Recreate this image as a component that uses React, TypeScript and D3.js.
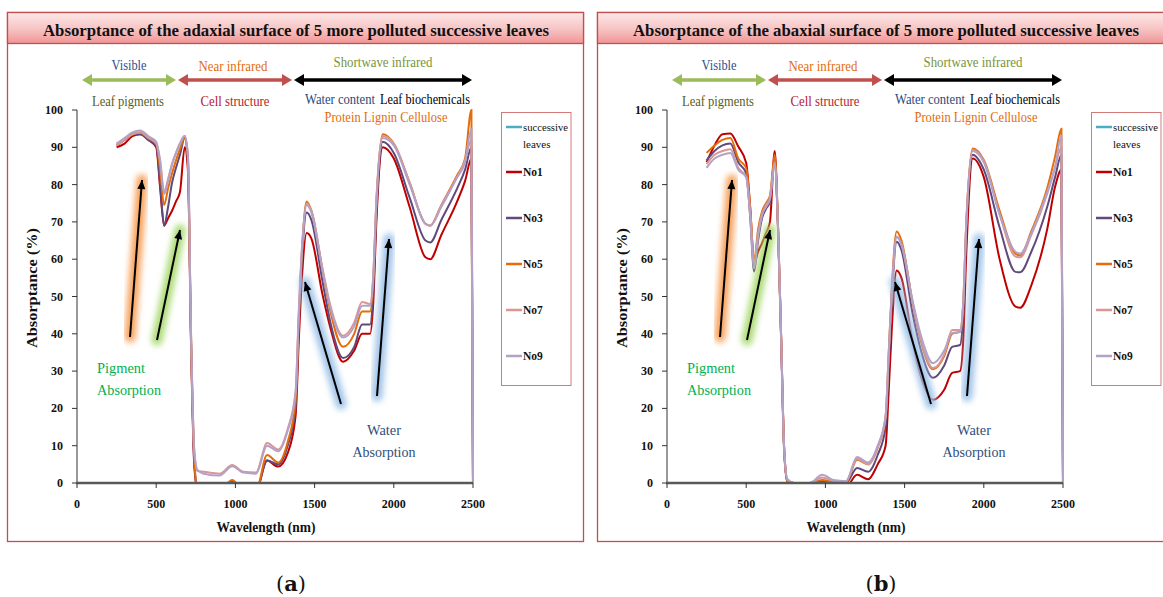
import * as React from "react";
import * as d3 from "d3";

// wavelength grid (nm) the curves were read at
const wavelengths = [
  250, 300, 350, 400, 450, 500, 525, 550, 575, 600, 625, 650, 680, 700, 720, 740, 760, 800, 900, 980,
  1050, 1130, 1200, 1270, 1330, 1380, 1400, 1420, 1450, 1480, 1550, 1600, 1680, 1750, 1800, 1850, 1870,
  1890, 1930, 2000, 2100, 2200, 2230, 2300, 2400, 2450, 2490, 2500,
];

// (a) adaxial surface
const adaxialNo1 = [
  90, 91, 93, 93.5, 92, 90, 79, 69, 71, 73, 75.5, 78, 90, 84, 37, 5, -1.5, -2, -2, 0.5,
  -2, -2, 6, 4.4, 8, 18, 38, 55, 67, 65.5, 50.5, 41.5, 32.5, 35.5, 40, 40, 48,
  70, 90, 87, 74, 60.5, 60, 66.5, 75.5, 81, 87, 0,
];
const adaxialNo3 = [
  90.5, 92, 93.5, 93.5, 92, 90.5, 80, 69, 74, 80.5, 84.5, 88, 92.5, 86, 38, 6, -1.5, -2, -2, 0.5,
  -2, -2, 6, 5, 10, 20, 42, 60, 72.5, 70.5, 54, 43, 33.5, 36.5, 42.5, 42.5, 51,
  72, 91.5, 88.5, 76.5, 65, 64.5, 70.5, 79, 84, 90, 0,
];
const adaxialNo5 = [
  91, 92, 93.5, 94, 92.5, 91, 84, 74.5, 79, 83, 86.5, 89.5, 92.5, 87, 39, 7, -1.5, -2, -2, 0.8,
  -2, -2, 7.5, 5.5, 11, 22, 44, 62, 75.5, 73, 57, 46, 36.5, 40, 46, 46, 54,
  75, 93.5, 91, 80.5, 69.5, 69, 74.5, 82.5, 87, 100, 0,
];
const adaxialNo7 = [
  90.5, 92, 93.5, 94, 92.5, 91, 86.5, 78, 81.5, 85.5, 88.5, 91, 93, 88, 40, 9, 3.2, 3, 2.5, 4.8,
  3, 2.8, 10.7, 9, 14.5, 24.5, 46, 63, 75, 73, 57.5, 47.5, 39.5, 43, 48.5, 48, 55.5,
  76, 93, 91, 80.5, 69.5, 69, 74.5, 82, 86.5, 92, 0,
];
const adaxialNo9 = [
  91, 92.5, 94, 94.5, 93, 91.5, 86, 77.5, 81, 85.5, 88.5, 91, 93, 88, 40, 9, 3.5, 2.5, 2, 4.5,
  2.8, 2.5, 10, 8.5, 14, 24, 45, 62, 74.5, 72.5, 57, 47, 39, 42, 47.5, 47.5, 55,
  75, 92.5, 90.5, 80, 69.5, 69, 74, 82, 86, 95, 0,
];

// (b) abaxial surface
const abaxialNo1 = [
  86, 90.5, 93.5, 93.7, 90.2, 85.8, 74, 59, 62, 64.3, 67, 70, 89, 70, 40, 9, 0.5, 0, -0.5, 0.3,
  -1, -1, 2.2, 1, 5, 10, 25, 42, 57, 55, 38, 29, 22.3, 25, 29.5, 30, 38,
  62, 87, 82, 60, 47.3, 47, 53, 68, 79.4, 84, 0,
];
const abaxialNo3 = [
  86.5, 89, 90.5, 91, 86, 83, 71.5, 56.7, 65, 71, 73.5, 75.5, 87, 69, 39, 8, 0.5, 0, 0, 0.5,
  0, 0, 4, 3, 7.5, 15, 32, 50, 64.7, 62.5, 45.5, 36, 28.2, 31.5, 36.5, 37, 45,
  68, 88, 84, 68.5, 56.6, 56.5, 62, 74, 82, 88, 0,
];
const abaxialNo5 = [
  88.5, 90.5, 92, 92.5, 87, 84.4, 74, 59.5, 68, 72.8, 75, 77, 88, 70, 40, 9, 0.5, 0, 0, 0.8,
  0.3, 0.2, 6.2, 5, 9.5, 17.5, 35, 53, 67.4, 65, 48.5, 38.5, 30.5, 34, 40, 40.5, 48,
  70.5, 89.7, 86.6, 73, 61.5, 61, 67.5, 79, 87.5, 95, 0,
];
const abaxialNo7 = [
  85.5, 88, 89, 89.5, 84.5, 82, 72.5, 58.5, 67, 72, 74.5, 76.5, 86, 70, 40, 9, 1, 0, 0, 1.5,
  0.6, 0.4, 6.5, 5, 9.5, 17.5, 34.5, 51.5, 66, 64, 48.5, 39, 30.8, 34.5, 41, 41, 48.5,
  70, 89.3, 86.3, 72, 60.7, 60.5, 66.5, 77.5, 84.5, 90, 0,
];
const abaxialNo9 = [
  84.5, 87, 88, 88.5, 84, 82, 72, 57.5, 66, 71.8, 74, 76, 85.5, 70, 40, 9, 1, 0, 0, 2.2,
  0.8, 0.5, 7, 5.5, 10, 18, 35, 52, 66, 64, 49, 40, 32.1, 35.5, 40.2, 40.5, 48,
  70, 89, 86, 72, 62, 61.5, 67, 78, 84.8, 93, 0,
];

const seriesNames = ["No1", "No3", "No5", "No7", "No9"];
const seriesColors = ["#c00000", "#604a7b", "#e46c0a", "#d99694", "#b3a2c7"];
const adaxialSeries = [adaxialNo1, adaxialNo3, adaxialNo5, adaxialNo7, adaxialNo9];
const abaxialSeries = [abaxialNo1, abaxialNo3, abaxialNo5, abaxialNo7, abaxialNo9];

const FONT = "Liberation Serif, DejaVu Serif, serif";

// arrow head at (x2,y2) pointing away from (x1,y1)
const headPoints = (x1, y1, x2, y2, len = 9, half = 4.5) => {
  const a = Math.atan2(y2 - y1, x2 - x1);
  const bx = x2 - len * Math.cos(a);
  const by = y2 - len * Math.sin(a);
  const px = -Math.sin(a) * half;
  const py = Math.cos(a) * half;
  return `${x2},${y2} ${bx + px},${by + py} ${bx - px},${by - py}`;
};

const GlowArrow = ({ x1, y1, x2, y2, glow }) => (
  <g>
    <line x1={x1} y1={y1} x2={x2} y2={y2} stroke={glow} strokeWidth={11}
      strokeLinecap="round" opacity={0.9} filter="url(#glowblur)" />
    <line x1={x1} y1={y1} x2={x2} y2={y2} stroke="#000" strokeWidth={2} />
    <polygon points={headPoints(x1, y1, x2, y2, 9, 4)} fill="#000" />
  </g>
);

const DoubleArrow = ({ x1, x2, y, color }) => (
  <g>
    <line x1={x1 + 6} x2={x2 - 6} y1={y} y2={y} stroke={color} strokeWidth={3.5} />
    <polygon points={headPoints(x2, y, x1, y, 10, 6)} fill={color} />
    <polygon points={headPoints(x1, y, x2, y, 10, 6)} fill={color} />
  </g>
);

const Panel = ({ ox, title, tag, series, uid }) => {
  const x = d3.scaleLinear().domain([0, 2500]).range([77, 473]);
  const y = d3.scaleLinear().domain([0, 100]).range([483, 110]);
  const line = d3
    .line<number>()
    .x((d, i) => x(wavelengths[i]))
    .y(d => y(d))
    .curve(d3.curveMonotoneX);

  return (
    <g transform={`translate(${ox},0)`} fontFamily={FONT}>
      <rect x={7.5} y={12.5} width={576} height={529} fill="#fff" stroke="#c0504d" strokeWidth={1.3} />
      <rect x={7.5} y={12.5} width={576} height={31} fill="url(#band)" stroke="#c0504d" strokeWidth={1.3} />
      <text x={296} y={36} textAnchor="middle" fontSize={17} fontWeight="bold" fill="#111"
        textLength={506} lengthAdjust="spacingAndGlyphs">{title}</text>

      {/* spectral regions */}
      <text x={129} y={70} textAnchor="middle" fontSize={14} fill="#2f4e8a" textLength={35} lengthAdjust="spacingAndGlyphs">Visible</text>
      <text x={233} y={71} textAnchor="middle" fontSize={14} fill="#e46c0a" textLength={69} lengthAdjust="spacingAndGlyphs">Near infrared</text>
      <text x={383} y={67} textAnchor="middle" fontSize={14} fill="#77933c" textLength={99} lengthAdjust="spacingAndGlyphs">Shortwave infrared</text>
      <DoubleArrow x1={82} x2={176} y={80} color="#9bbb59" />
      <DoubleArrow x1={178} x2={292} y={80} color="#c0504d" />
      <DoubleArrow x1={294} x2={472} y={80} color="#000" />
      <text x={128} y={106} textAnchor="middle" fontSize={14} fill="#4f6228" textLength={72} lengthAdjust="spacingAndGlyphs">Leaf pigments</text>
      <text x={235} y={106} textAnchor="middle" fontSize={14} fill="#b8202e" textLength={69} lengthAdjust="spacingAndGlyphs">Cell structure</text>
      <text x={340} y={104} textAnchor="middle" fontSize={14} fill="#1f497d" textLength={70} lengthAdjust="spacingAndGlyphs">Water content</text>
      <text x={425} y={104} textAnchor="middle" fontSize={14} fill="#000" textLength={90} lengthAdjust="spacingAndGlyphs">Leaf biochemicals</text>
      <text x={386} y={122} textAnchor="middle" fontSize={14} fill="#e46c0a" textLength={123} lengthAdjust="spacingAndGlyphs">Protein Lignin Cellulose</text>

      {/* curves */}
      <clipPath id={`clip-${uid}`}>
        <rect x={x(0)} y={100} width={x(2500) - x(0) + 2} height={y(0) - 100} />
      </clipPath>
      <g clipPath={`url(#clip-${uid})`}>
        {series.map((s, i) => (
          <path key={seriesNames[i]} d={line(s)} fill="none" stroke={seriesColors[i]} strokeWidth={2} />
        ))}
      </g>

      {/* axes */}
      <line x1={x(0)} x2={x(0)} y1={y(100)} y2={y(0)} stroke="#333" strokeWidth={1} />
      {y.ticks(10).map(t => (
        <g key={t}>
          <line x1={x(0) - 5} x2={x(0)} y1={y(t)} y2={y(t)} stroke="#333" />
          <text x={63} y={y(t) + 4} textAnchor="end" fontSize={12} fontWeight="bold" fill="#111">{t}</text>
        </g>
      ))}
      <line x1={x(0) - 1} x2={x(2500)} y1={y(0)} y2={y(0)} stroke="#595959" strokeWidth={2.5} />
      {x.ticks(5).map(t => (
        <g key={t}>
          <line x1={x(t)} x2={x(t)} y1={y(0)} y2={y(0) + 5} stroke="#333" />
          <text x={x(t)} y={508} textAnchor="middle" fontSize={12} fontWeight="bold" fill="#111">{t}</text>
        </g>
      ))}
      <text x={266} y={532} textAnchor="middle" fontSize={14} fontWeight="bold" fill="#111"
        textLength={99} lengthAdjust="spacingAndGlyphs">Wavelength (nm)</text>
      <text transform="translate(37,288) rotate(-90)" textAnchor="middle" fontSize={14} fontWeight="bold"
        fill="#111" textLength={120} lengthAdjust="spacingAndGlyphs">Absorptance (%)</text>

      {/* absorption annotations */}
      <GlowArrow x1={130} y1={337} x2={142} y2={180} glow="#f79646" />
      <GlowArrow x1={157} y1={340} x2={180} y2={230} glow="#a2d765" />
      <GlowArrow x1={341} y1={404} x2={305} y2={282} glow="#95bde6" />
      <GlowArrow x1={377} y1={396} x2={389} y2={239} glow="#95bde6" />
      <text x={97} y={373} fontSize={15} fill="#00b050" textLength={48} lengthAdjust="spacingAndGlyphs">Pigment</text>
      <text x={97} y={395} fontSize={15} fill="#00b050" textLength={64} lengthAdjust="spacingAndGlyphs">Absorption</text>
      <text x={384} y={435} textAnchor="middle" fontSize={15} fill="#2f4e7a" textLength={34} lengthAdjust="spacingAndGlyphs">Water</text>
      <text x={384} y={457} textAnchor="middle" fontSize={15} fill="#2f4e7a" textLength={63} lengthAdjust="spacingAndGlyphs">Absorption</text>

      {/* legend */}
      <rect x={501.5} y={112.5} width={69.5} height={273} fill="#fff" stroke="#d27a78" strokeWidth={1} />
      <line x1={506} x2={522} y1={127} y2={127} stroke="#4bacc6" strokeWidth={2.5} />
      <text x={523} y={131} fontSize={11} fill="#111" textLength={45} lengthAdjust="spacingAndGlyphs">successive</text>
      <text x={523} y={148} fontSize={11} fill="#111">leaves</text>
      {seriesNames.map((n, i) => (
        <g key={n}>
          <line x1={506} x2={522} y1={172 + i * 46} y2={172 + i * 46} stroke={seriesColors[i]} strokeWidth={2.5} />
          <text x={523} y={176 + i * 46} fontSize={11.5} fontWeight="bold" fill="#111">{n}</text>
        </g>
      ))}

      <text x={291} y={591} textAnchor="middle" fontSize={21} fill="#111" fontFamily="DejaVu Serif, serif">
        (<tspan fontWeight="bold">{tag}</tspan>)
      </text>
    </g>
  );
};

export default function App() {
  return (
    <div style={{ position: "absolute", left: 0, top: 0 }}>
      <svg width={1163} height={597} style={{ display: "block", background: "#fff" }}>
        <defs>
          <linearGradient id="band" x1="0" y1="0" x2="0" y2="1">
            <stop offset="0" stopColor="#fde9e9" />
            <stop offset="0.55" stopColor="#f7c2c2" />
            <stop offset="1" stopColor="#f09595" />
          </linearGradient>
          <filter id="glowblur" x="-50%" y="-50%" width="200%" height="200%">
            <feGaussianBlur stdDeviation="3" />
          </filter>
        </defs>
        <Panel ox={0} uid="a" tag="a" series={adaxialSeries}
          title="Absorptance of the adaxial surface of 5 more polluted successive leaves" />
        <Panel ox={590} uid="b" tag="b" series={abaxialSeries}
          title="Absorptance of the abaxial surface of 5 more polluted successive leaves" />
      </svg>
    </div>
  );
}
